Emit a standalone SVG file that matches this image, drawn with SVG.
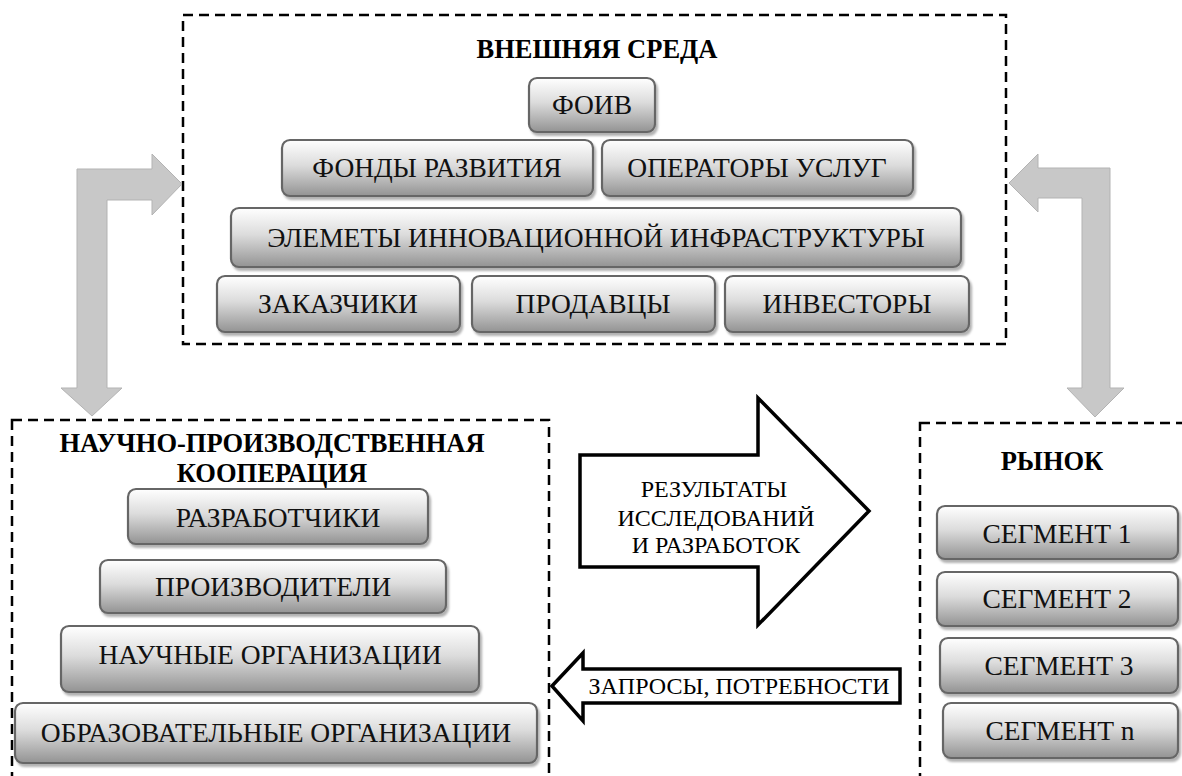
<svg xmlns="http://www.w3.org/2000/svg" width="1182" height="776" viewBox="0 0 1182 776">
<defs>
<linearGradient id="g" x1="0" y1="0" x2="0" y2="1">
<stop offset="0" stop-color="#ffffff"/>
<stop offset="0.45" stop-color="#dcdcdc"/>
<stop offset="1" stop-color="#939393"/>
</linearGradient>
<filter id="sh" x="-5%" y="-10%" width="115%" height="135%">
<feDropShadow dx="2" dy="3" stdDeviation="1.2" flood-color="#000" flood-opacity="0.3"/>
</filter>
</defs>
<style>
.box{fill:url(#g);stroke:#666;stroke-width:2.2;filter:url(#sh)}
.t{font-family:"Liberation Serif","Times New Roman",serif;font-size:27.5px;fill:#111;text-anchor:middle}
.h{font-family:"Liberation Serif","Times New Roman",serif;font-size:26.5px;font-weight:bold;fill:#000;text-anchor:middle}
.a{font-family:"Liberation Serif","Times New Roman",serif;font-size:24px;fill:#000;text-anchor:middle}
.dash{fill:none;stroke:#000;stroke-width:2.5;stroke-dasharray:10 6}
.gray{fill:#c8c8c8;stroke:#b3b3b3;stroke-width:1}
.white{fill:#fff;stroke:#000;stroke-width:3.5;stroke-linejoin:miter}
</style>
<rect width="1182" height="776" fill="#fff"/>

<g id="external">
<rect class="dash" x="183" y="15" width="823" height="329"/>
<text class="h" x="597" y="58">ВНЕШНЯЯ СРЕДА</text>
</g>
<g id="coop">
<rect class="dash" x="12" y="420" width="537" height="420"/>
<text class="h" x="272" y="452">НАУЧНО-ПРОИЗВОДСТВЕННАЯ</text>
<text class="h" x="272" y="482">КООПЕРАЦИЯ</text>
</g>
<g id="market">
<rect class="dash" x="920" y="423" width="320" height="420"/>
<text class="h" x="1052" y="470">РЫНОК</text>
</g>

<g id="connectors">
<path class="gray" d="M182,184 L152,154 L152,169 L77,169 L77,388 L61,388 L92,416 L122,388 L107,388 L107,200 L152,200 L152,215 Z"/>
<path class="gray" d="M1009,183 L1038,154 L1038,168 L1110,168 L1110,388 L1124,388 L1095,417 L1067,388 L1082,388 L1082,198 L1038,198 L1038,212 Z"/>
<g id="results">
<path class="white" d="M580,455 L758,455 L758,398 L869,511 L758,625 L758,567 L580,567 Z"/>
<text class="a" x="714" y="497">РЕЗУЛЬТАТЫ</text>
<text class="a" x="716" y="526">ИССЛЕДОВАНИЙ</text>
<text class="a" x="716" y="553">И РАЗРАБОТОК</text>
</g>
<g id="requests">
<path class="white" d="M552,686 L583,653 L583,669 L900,669 L900,703 L583,703 L583,721 Z"/>
<text class="a" x="739" y="694">ЗАПРОСЫ, ПОТРЕБНОСТИ</text>
</g>
</g>

<g id="foiv"><rect class="box" x="529" y="78" width="126" height="54" rx="8"/><text class="t" x="592" y="114">ФОИВ</text></g>
<g id="funds"><rect class="box" x="282" y="140" width="311" height="56" rx="8"/><text class="t" x="437" y="177">ФОНДЫ РАЗВИТИЯ</text></g>
<g id="operators"><rect class="box" x="602" y="140" width="311" height="56" rx="8"/><text class="t" x="757" y="177">ОПЕРАТОРЫ УСЛУГ</text></g>
<g id="infra"><rect class="box" x="231" y="208" width="730" height="59" rx="8"/><text class="t" x="596" y="247">ЭЛЕМЕТЫ ИННОВАЦИОННОЙ ИНФРАСТРУКТУРЫ</text></g>
<g id="customers"><rect class="box" x="217" y="276" width="243" height="56" rx="8"/><text class="t" x="338" y="313">ЗАКАЗЧИКИ</text></g>
<g id="sellers"><rect class="box" x="472" y="276" width="243" height="56" rx="8"/><text class="t" x="593" y="313">ПРОДАВЦЫ</text></g>
<g id="investors"><rect class="box" x="725" y="276" width="244" height="56" rx="8"/><text class="t" x="847" y="313">ИНВЕСТОРЫ</text></g>

<g id="developers"><rect class="box" x="128" y="489" width="300" height="55" rx="8"/><text class="t" x="278" y="527">РАЗРАБОТЧИКИ</text></g>
<g id="producers"><rect class="box" x="100" y="560" width="346" height="53" rx="8"/><text class="t" x="273" y="596">ПРОИЗВОДИТЕЛИ</text></g>
<g id="science"><rect class="box" x="61" y="626" width="418" height="66" rx="8"/><text class="t" x="270" y="664">НАУЧНЫЕ ОРГАНИЗАЦИИ</text></g>
<g id="education"><rect class="box" x="15" y="703" width="522" height="60" rx="8"/><text class="t" x="276" y="742">ОБРАЗОВАТЕЛЬНЫЕ ОРГАНИЗАЦИИ</text></g>

<g id="seg1"><rect class="box" x="937" y="506" width="241" height="53" rx="8"/><text class="t" x="1057" y="543">СЕГМЕНТ 1</text></g>
<g id="seg2"><rect class="box" x="937" y="572" width="241" height="54" rx="8"/><text class="t" x="1057" y="608">СЕГМЕНТ 2</text></g>
<g id="seg3"><rect class="box" x="940" y="638" width="238" height="55" rx="8"/><text class="t" x="1059" y="675">СЕГМЕНТ 3</text></g>
<g id="segn"><rect class="box" x="943" y="703" width="235" height="55" rx="8"/><text class="t" x="1060" y="740">СЕГМЕНТ n</text></g>
</svg>
